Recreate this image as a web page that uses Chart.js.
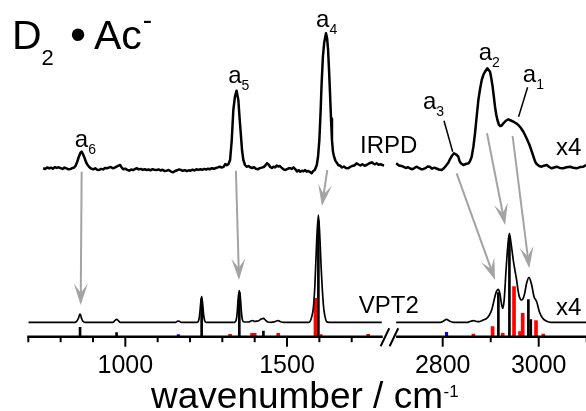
<!DOCTYPE html>
<html>
<head>
<meta charset="utf-8">
<script src="https://cdn.jsdelivr.net/npm/chart.js@4/dist/chart.umd.min.js"></script>
<style>
  html, body { margin: 0; padding: 0; background: #fff; }
  canvas { display: block; }
</style>
</head>
<body>
<canvas id="spectrum" width="586" height="411"></canvas>
<script>
// ---- Spectra: [wavenumber (cm-1), intensity (arb. units)] ----
// IRPD photodissociation spectrum, fingerprint region
const IRPD_LOW = [
  [746,0.2],[752,-0.5],[758,1.0],[764,0.3],[770,0.8],[776,-0.2],[782,1.4],[788,0.6],[794,1.2],[800,0.4],
  [806,-0.4],[812,0.9],[818,0.1],[824,-0.8],[830,-0.6],[836,0.5],[841,0.8],[846,2.5],[851,6.5],[856,11.5],
  [861,15.5],[865,16.8],[869,14.5],[874,10.5],[879,6.0],[884,3.2],[889,1.2],[895,-0.3],[901,-0.8],[907,0.2],
  [913,-1.2],[919,-1.5],[925,-0.4],[931,-0.9],[937,0.5],[943,0.2],[949,0.9],[955,1.5],[961,0.3],[967,0.8],
  [973,1.9],[979,2.8],[984,3.5],[989,0.8],[994,-0.8],[1000,-0.2],[1006,-1.3],[1012,-2.2],[1018,-1.0],[1024,-1.6],
  [1030,-0.5],[1036,0.2],[1042,-0.9],[1048,-0.4],[1054,-1.4],[1060,-0.8],[1066,-1.5],[1072,-1.0],[1078,-1.8],[1084,-0.7],
  [1090,-1.2],[1097,-1.5],[1103,-0.9],[1109,-2.0],[1115,-1.3],[1121,-2.4],[1128,-2.2],[1134,-1.4],[1140,-2.8],[1148,-3.8],
  [1154,-2.5],[1160,-1.8],[1166,-0.9],[1172,-1.5],[1178,-2.3],[1184,-1.6],[1190,-2.6],[1196,-1.8],[1202,-2.2],[1208,-1.2],
  [1214,-1.9],[1220,-0.8],[1226,-1.4],[1232,-0.8],[1238,-1.3],[1244,-0.4],[1250,-1.0],[1256,-0.2],[1262,-0.7],[1268,0.3],
  [1274,-0.2],[1280,0.5],[1286,1.1],[1292,1.8],[1298,1.0],[1304,1.6],[1309,4.5],[1314,3.2],[1319,4.5],[1324,8.5],
  [1329,28],[1334,58.5],[1339,71.8],[1344,77.8],[1349.5,68.5],[1353,52],[1357,35],[1361,18],[1365,8.5],[1370,3.5],
  [1375,1.8],[1381,2.4],[1386,1.2],[1392,0.5],[1398,1.3],[1404,-0.3],[1410,-0.8],[1416,0.4],[1422,0.9],[1428,1.5],
  [1433,3.0],[1438,5.2],[1443,4.0],[1448,1.5],[1453,0.6],[1458,1.8],[1463,1.0],[1468,3.0],[1473,2.0],[1478,2.5],
  [1484,0.5],[1490,-1.0],[1495,-1.5],[1500,-0.6],[1505,0.2],[1510,0.3],[1515,-0.5],[1520,1.2],[1526,-0.8],[1531,-3.0],
  [1536,-1.8],[1541,-3.2],[1546,-2.2],[1551,-2.8],[1556,-1.6],[1561,-3.2],[1566,-2.4],[1571,-3.6],[1576,-4.8],[1581,-2.5],
  [1586,-1.5],[1592,3.5],[1596,12],[1600,28.5],[1604,58],[1607,85],[1611,112],[1615,126],[1620.5,135.2],[1624,130],
  [1627,118.5],[1630,98],[1633,75],[1636,50],[1639,28.5],[1642,17],[1645.5,11.8],[1650,7.5],[1654,5.8],[1658,3.5],
  [1664,2.8],[1670,1.0],[1676,2.0],[1682,0.6],[1689,0.2],[1695,1.5],[1701,2.5],[1708,3.0],[1715,5.2],[1721,4.0],
  [1727,3.0],[1733,4.2],[1740,2.8],[1746,3.5],[1752,4.8],[1757,5.5],[1762,6.2],[1767,5.0],[1772,4.2],[1777,5.2],
  [1783,3.8],[1789,4.2],[1795,3.5],[1800,3.0]
];
// IRPD spectrum, C-H stretching region
const IRPD_HIGH = [
  [2703,5.2],[2709,3.0],[2714,2.5],[2718,1.8],[2723,0.5],[2728,1.2],[2732,0],[2737,-0.8],[2742,0.8],[2746,1.8],
  [2751,0.3],[2756,-0.9],[2760,-0.5],[2765,0.7],[2769,2.0],[2773,1.8],[2778,-0.2],[2783,0.8],[2787,0],[2792,-1.0],
  [2798,-1.5],[2803,0.5],[2808,3.5],[2812,6.0],[2815,9.2],[2819,12.5],[2823.5,15.2],[2828,14.0],[2832.6,11.8],[2835,7.5],
  [2838,5.2],[2843,3.5],[2848,4.5],[2854,5.2],[2857,7.5],[2860.4,11.8],[2864,22],[2867.4,35.5],[2871,53],[2874.3,68.5],
  [2878,80],[2881.3,88.5],[2885,94],[2888.2,96.8],[2893,100.2],[2898.6,96.8],[2901,91],[2904,81.8],[2906.5,72],[2909,61.8],
  [2911.5,54],[2914,48.5],[2917,44],[2919.4,42.5],[2923,43],[2926.4,45.2],[2931,47.5],[2936.8,49.2],[2942,48],[2947.2,46.8],
  [2952,45.5],[2957.6,43.5],[2963,40.5],[2968,36.8],[2972,33],[2976.4,28.5],[2980,24.5],[2983.3,20.2],[2987,15],[2990.3,10.2],
  [2993,6.5],[2995.8,4.5],[3001,2.5],[3006.2,1.8],[3011,2.8],[3016.7,3.5],[3022,1.5],[3027,0.2],[3032,1.0],[3037.5,1.8],
  [3044,0.6],[3051.4,0.2],[3058,1.2],[3065.3,1.8],[3072,0.7],[3079.2,0.2],[3086,1.4],[3093,1.8],[3099,3.5]
];
// VPT2 simulated spectrum (convolved), fingerprint region
const VPT2_LOW = [
  [700,0],[845,0],[851,1.5],[855,4],[858,7],[860,8.3],[862,7],[865,3.5],[869,1],[875,0],
  [962,0],[967,1.5],[973,3],[979,1.5],[984,0],[1155,0],[1160,0.8],[1164,1.3],[1168,0.8],[1173,0],
  [1222,0],[1227,2],[1230,8],[1233,19],[1236,25.6],[1239,19],[1242,8],[1245,2],[1250,0],
  [1338,0],[1343,2.5],[1346,10],[1349,24],[1352.5,31.6],[1356,24],[1359,10],[1362,2.5],[1367,0.3],
  [1380,0.3],[1386,0.8],[1393,1.8],[1400,1.0],[1406,1.2],[1412,1.6],[1420,3.2],[1427,4],[1434,2],[1441,0.3],
  [1450,0],[1460,0.4],[1467,1.3],[1473,1.6],[1480,0.6],[1490,0],
  [1568,0],[1576,5],[1582,16],[1586.5,39],[1591.8,82],[1597,107.3],[1602,82],[1605.5,55],[1609.3,32],[1613.5,14],
  [1617.5,5.6],[1622.7,0.5],[1630,0],[1793,0]
];
// VPT2 simulated spectrum, C-H stretching region
const VPT2_HIGH = [
  [2703,0],[2795,0],[2801,1],[2808,3],[2815,1],[2822,0],[2852,0],[2858,1],[2864,1.7],[2870,0.8],
  [2876,0.6],[2881,1.6],[2886,2.5],[2891.6,4],[2897,7],[2902,12.3],[2906,20],[2908.7,25.6],[2912,31],[2915.8,33],
  [2919,29],[2922,20],[2925,14],[2928,22],[2932,52.3],[2935.5,75.6],[2938.8,89],[2942.4,79],[2947,62.3],[2950.5,52],
  [2954,42.3],[2957,32],[2959.7,25.6],[2964.5,22.3],[2970,27.3],[2975,39.6],[2979.8,45],[2985.4,37.3],[2990.3,25.6],[2995.8,20.6],
  [3001.4,10.6],[3008.3,4],[3016.7,1],[3025,0],[3100,0]
];
// Stick spectra (transition intensities)
const STICKS_RED = [
  [1324,2.4],[1392,3.4],[1400,3.4],[1473,3.4],[1588,38.4],[1604,2],[1751,2.4],
  [2864,2.7],[2904,10],[2925,3.4],[2948.6,50],[2961,5],[2966.7,23.4],[2994.4,16],[3009.6,2.7]
];
const STICKS_BLACK = [
  [860,9.4],[973,4],[1236,38],[1352.5,44],[1427,5.7],[1597,116],
  [2916,44],[2939,100],[2978.5,37],[2983.5,17]
];
const STICKS_BLUE = [[1164,2.2],[2808,4.4]];

// ---- Axis ticks (cm-1) ----
const MAJOR_TICKS = [1000, 1500, 2800, 3000];
const MINOR_TICKS = [700, 800, 900, 1100, 1200, 1300, 1400, 1600, 1700, 2900, 3100];
const LOW_SEGMENT = [700, 1793];
const HIGH_SEGMENT = [2705, 3100];

// ---- Peak assignments ----
const PEAK_NAMES = ['6', '5', '4', '3', '2', '1'];
const PEAK_LABEL_AT = [[844, 190], [1318, 253.4], [1590, 310], [2759, 227.4], [2875, 276.7], [2967, 255]];

// Layout of the two stacked traces (intensity offsets)
const IRPD_OFFSET = 168.2;
const VPT2_OFFSET = 14.4;
const Y_MAX = 336.7;

// Broken wavenumber axis: the C-H region is stretched relative to the fingerprint region
const WN_MIN = 700;
const WN_MAX = 3098.5;
const HIGH_ORIGIN_UNITS = 1281.4;   // axis units of 2800 cm-1
const HIGH_STRETCH = 1.4842;
const AXIS_UNITS_MAX = 1724.5;      // axis units at WN_MAX
function toAxisUnits(wn) {
  return wn < 2250 ? wn - WN_MIN : HIGH_ORIGIN_UNITS + (wn - 2800) * HIGH_STRETCH;
}
function fromAxisUnits(u) {
  return u < 1120 ? u + WN_MIN : 2800 + (u - HIGH_ORIGIN_UNITS) / HIGH_STRETCH;
}

class BrokenLinearScale extends Chart.LinearScale {
  static id = 'brokenLinear';
  getPixelForValue(value) {
    return this.getPixelForDecimal(toAxisUnits(value) / AXIS_UNITS_MAX);
  }
  getValueForPixel(pixel) {
    return fromAxisUnits(this.getDecimalForPixel(pixel) * AXIS_UNITS_MAX);
  }
}
Chart.register(BrokenLinearScale);

const FONT = '"Liberation Sans", Arial, Helvetica, sans-serif';
const GREY = '#a3a3a3';

// Arrows IRPD band -> VPT2 band, [wn, value] -> [wn, value]
const ARROWS = [
  [[865, 165], [862, 31.7]],
  [[1342, 166], [1351.5, 56.7]],
  [[1624.5, 166.7], [1608, 130.7]],
  [[2829, 163.4], [2909, 56.7]],
  [[2892.3, 203.4], [2930, 111.7]],
  [[2945.6, 200.7], [2980.3, 68.4]]
];
// leader lines for the a3 and a1 labels
const LEADERS = [
  [[2802.7, 216], [2820.8, 185]],
  [[2976.9, 249.4], [2958.1, 220]]
];

function trace(points, offset, width, smooth) {
  return {
    type: 'line',
    data: points.map(([wn, v]) => ({ x: wn, y: offset + v })),
    borderColor: '#000',
    borderWidth: width,
    borderJoinStyle: 'round',
    pointRadius: 0,
    fill: false,
    tension: 0,
    cubicInterpolationMode: smooth ? 'monotone' : 'default',
    order: 1
  };
}
function sticks(points, color, thickness) {
  return {
    type: 'bar',
    data: points.map(([wn, h]) => ({ x: wn, y: h })),
    backgroundColor: color,
    borderWidth: 0,
    barThickness: thickness,
    grouped: false,
    order: 2
  };
}

function drawArrow(ctx, x0, y0, x1, y1) {
  const ang = Math.atan2(y1 - y0, x1 - x0);
  const c = Math.cos(ang), s = Math.sin(ang);
  const len = 21.5, half = 7, notch = 12;
  ctx.beginPath();
  ctx.moveTo(x0, y0);
  ctx.lineTo(x1 - c * notch, y1 - s * notch);
  ctx.stroke();
  ctx.beginPath();
  ctx.moveTo(x1, y1);
  ctx.lineTo(x1 - c * len - s * half, y1 - s * len + c * half);
  ctx.lineTo(x1 - c * notch, y1 - s * notch);
  ctx.lineTo(x1 - c * len + s * half, y1 - s * len - c * half);
  ctx.closePath();
  ctx.fill();
}

const overlay = {
  id: 'spectrumOverlay',
  beforeDatasetsDraw(chart) {
    const { ctx, scales: { x, y } } = chart;
    ctx.save();
    ctx.strokeStyle = GREY;
    ctx.fillStyle = GREY;
    ctx.lineWidth = 2;
    ARROWS.forEach(([a, b]) => {
      drawArrow(ctx, x.getPixelForValue(a[0]), y.getPixelForValue(a[1]),
                     x.getPixelForValue(b[0]), y.getPixelForValue(b[1]));
    });
    ctx.restore();
  },
  afterDatasetsDraw(chart) {
    const { ctx, scales: { x, y } } = chart;
    const axisY = y.getPixelForValue(0);
    ctx.save();
    ctx.strokeStyle = '#000';
    ctx.fillStyle = '#000';

    // broken axis line
    ctx.lineWidth = 2.6;
    ctx.lineCap = 'butt';
    [LOW_SEGMENT, HIGH_SEGMENT].forEach(([a, b]) => {
      ctx.beginPath();
      ctx.moveTo(x.getPixelForValue(a) - 1, axisY);
      ctx.lineTo(x.getPixelForValue(b) + 1, axisY);
      ctx.stroke();
    });
    // break marks
    const gapC = (x.getPixelForValue(LOW_SEGMENT[1]) + x.getPixelForValue(HIGH_SEGMENT[0])) / 2;
    ctx.lineWidth = 2;
    [-4.5, 4.5].forEach(dx => {
      ctx.beginPath();
      ctx.moveTo(gapC + dx - 4.3, axisY + 9.5);
      ctx.lineTo(gapC + dx + 4.3, axisY - 8.5);
      ctx.stroke();
    });
    // ticks
    ctx.lineWidth = 2;
    MINOR_TICKS.forEach(wn => {
      const px = x.getPixelForValue(wn);
      ctx.beginPath(); ctx.moveTo(px, axisY); ctx.lineTo(px, axisY + 5.5); ctx.stroke();
    });
    MAJOR_TICKS.forEach(wn => {
      const px = x.getPixelForValue(wn);
      ctx.beginPath(); ctx.moveTo(px, axisY); ctx.lineTo(px, axisY + 10); ctx.stroke();
    });
    // tick labels
    ctx.font = '25px ' + FONT;
    ctx.textAlign = 'center';
    ctx.textBaseline = 'alphabetic';
    MAJOR_TICKS.forEach(wn => ctx.fillText(String(wn), x.getPixelForValue(wn), axisY + 36.6));

    // axis title
    ctx.textAlign = 'left';
    ctx.font = '37px ' + FONT;
    const title = 'wavenumber / cm';
    const tx = 151;
    ctx.fillText(title, tx, 408.3);
    const tw = ctx.measureText(title).width;
    ctx.font = '17px ' + FONT;
    ctx.fillText('-1', tx + tw + 0.5, 396.5);

    // peak labels
    PEAK_NAMES.forEach((n, i) => {
      const [wn, v] = PEAK_LABEL_AT[i];
      const px = x.getPixelForValue(wn), py = y.getPixelForValue(v);
      ctx.font = '24px ' + FONT;
      ctx.fillText('a', px, py);
      const aw = ctx.measureText('a').width;
      ctx.font = '14px ' + FONT;
      ctx.fillText(n, px + aw, py + 7);
    });
    // leader lines
    ctx.lineWidth = 1.5;
    LEADERS.forEach(([a, b]) => {
      ctx.beginPath();
      ctx.moveTo(x.getPixelForValue(a[0]), y.getPixelForValue(a[1]));
      ctx.lineTo(x.getPixelForValue(b[0]), y.getPixelForValue(b[1]));
      ctx.stroke();
    });

    // trace names and scale factors
    ctx.font = '24px ' + FONT;
    ctx.fillText('IRPD', x.getPixelForValue(1726), y.getPixelForValue(183.4));
    ctx.fillText('VPT2', x.getPixelForValue(1722), y.getPixelForValue(23.4));
    ctx.fillText('x4', x.getPixelForValue(3036), y.getPixelForValue(181.7));
    ctx.fillText('x4', x.getPixelForValue(3036), y.getPixelForValue(21.7));

    // species label
    ctx.font = '41px ' + FONT;
    ctx.fillText('D', 12, 49.3);
    ctx.font = '22px ' + FONT;
    ctx.fillText('2', 41.5, 65);
    ctx.font = '46px ' + FONT;
    ctx.textAlign = 'center';
    ctx.fillText('\u2022', 78, 50);
    ctx.textAlign = 'left';
    ctx.font = '41px ' + FONT;
    ctx.fillText('Ac', 94, 49.3);
    const acw = ctx.measureText('Ac').width;
    ctx.font = '28px ' + FONT;
    ctx.fillText('-', 94 + acw + 1, 29);
    ctx.restore();
  }
};

new Chart(document.getElementById('spectrum'), {
  type: 'line',
  data: {
    datasets: [
      trace(IRPD_LOW, IRPD_OFFSET, 2.5, false),
      trace(IRPD_HIGH, IRPD_OFFSET, 2.5, false),
      trace(VPT2_LOW, VPT2_OFFSET, 1.7, true),
      trace(VPT2_HIGH, VPT2_OFFSET, 1.7, true),
      sticks(STICKS_RED, '#ff0000', 3),
      sticks(STICKS_BLACK, '#000000', 2),
      sticks(STICKS_BLUE, '#0000ff', 2.5)
    ]
  },
  options: {
    responsive: false,
    animation: false,
    devicePixelRatio: 1,
    layout: { padding: { left: 28.3, right: 0, top: 0, bottom: 411 - Y_MAX } },
    plugins: { legend: { display: false }, tooltip: { enabled: false } },
    scales: {
      x: { type: 'brokenLinear', display: false, offset: false, min: WN_MIN, max: WN_MAX },
      y: { type: 'linear', display: false, min: 0, max: Y_MAX }
    }
  },
  plugins: [overlay]
});
</script>
</body>
</html>
